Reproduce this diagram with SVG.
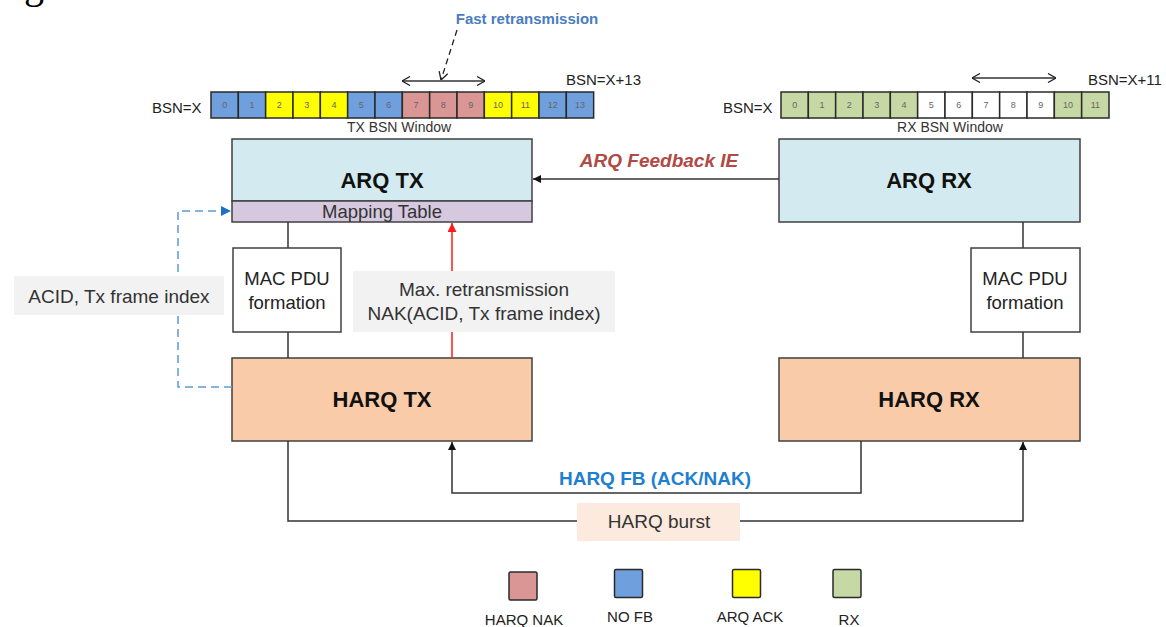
<svg xmlns="http://www.w3.org/2000/svg" width="1166" height="627" viewBox="0 0 1166 627">
<defs>
<style>
text{font-family:"Liberation Sans",Arial,sans-serif;}
.box{stroke:#404040;stroke-width:1.5;}
.cell{stroke:#2a2a2a;stroke-width:1.5;}
.num{font-size:9px;fill:#666;text-anchor:middle;}
.lbl{font-size:15px;fill:#222;}
.big{font-size:22px;font-weight:bold;fill:#111;text-anchor:middle;}
.mid{font-size:18.5px;fill:#222;text-anchor:middle;}
.note{font-size:19px;fill:#333;text-anchor:middle;}
.line{stroke:#333;stroke-width:1.5;fill:none;}
.blue{fill:#6f9fdc;}.yel{fill:#ffff00;}.pink{fill:#d99694;}.grn{fill:#c6d9a4;}.wht{fill:#ffffff;}
</style>
<marker id="tri" viewBox="0 0 10 10" refX="10" refY="5" markerWidth="8" markerHeight="8" markerUnits="userSpaceOnUse" orient="auto"><path d="M0,0 L10,5 L0,10 z" fill="#111"/></marker>
<marker id="triR" viewBox="0 0 10 10" refX="10" refY="5" markerWidth="9" markerHeight="9" markerUnits="userSpaceOnUse" orient="auto"><path d="M0,0 L10,5 L0,10 z" fill="#ff1a1a"/></marker>
<marker id="triB" viewBox="0 0 10 10" refX="10" refY="5" markerWidth="10" markerHeight="10" markerUnits="userSpaceOnUse" orient="auto"><path d="M0,0 L10,5 L0,10 z" fill="#1f6fc4"/></marker>
<marker id="open" viewBox="0 0 10 10" refX="10" refY="5" markerWidth="10" markerHeight="10" markerUnits="userSpaceOnUse" orient="auto-start-reverse"><path d="M2,0.5 L10,5 L2,9.5" fill="none" stroke="#222" stroke-width="1.3"/></marker>
</defs>
<rect width="1166" height="627" fill="#ffffff"/>
<text x="24" y="-2" style="font-family:'Liberation Serif',serif;font-size:40px;fill:#000">g</text>

<g id="tx-window">
<text class="lbl" x="152" y="112.5">BSN=X</text>
<text class="lbl" x="566" y="84.5">BSN=X+13</text>
<text x="399" y="132" style="font-size:14px;fill:#333;text-anchor:middle">TX BSN Window</text>
<rect class="cell blue" x="211" y="92" width="27.33" height="26"/>
<rect class="cell blue" x="238.33" y="92" width="27.33" height="26"/>
<rect class="cell yel" x="265.66" y="92" width="27.33" height="26"/>
<rect class="cell yel" x="293" y="92" width="27.33" height="26"/>
<rect class="cell yel" x="320.33" y="92" width="27.33" height="26"/>
<rect class="cell blue" x="347.66" y="92" width="27.33" height="26"/>
<rect class="cell blue" x="375" y="92" width="27.33" height="26"/>
<rect class="cell pink" x="402.33" y="92" width="27.33" height="26"/>
<rect class="cell pink" x="429.66" y="92" width="27.33" height="26"/>
<rect class="cell pink" x="457" y="92" width="27.33" height="26"/>
<rect class="cell yel" x="484.33" y="92" width="27.33" height="26"/>
<rect class="cell yel" x="511.66" y="92" width="27.33" height="26"/>
<rect class="cell blue" x="539" y="92" width="27.33" height="26"/>
<rect class="cell blue" x="566.33" y="92" width="27.33" height="26"/>
<text class="num" x="224.7" y="108">0</text><text class="num" x="252" y="108">1</text><text class="num" x="279.3" y="108">2</text><text class="num" x="306.7" y="108">3</text><text class="num" x="334" y="108">4</text><text class="num" x="361.3" y="108">5</text><text class="num" x="388.7" y="108">6</text><text class="num" x="416" y="108">7</text><text class="num" x="443.3" y="108">8</text><text class="num" x="470.7" y="108">9</text><text class="num" x="498" y="108">10</text><text class="num" x="525.3" y="108">11</text><text class="num" x="552.7" y="108">12</text><text class="num" x="580" y="108">13</text>
</g>

<g id="rx-window">
<text class="lbl" x="723" y="112.5">BSN=X</text>
<text class="lbl" x="1088" y="84.5">BSN=X+11</text>
<text x="950" y="132" style="font-size:14px;fill:#333;text-anchor:middle">RX BSN Window</text>
<rect class="cell grn" x="781" y="92" width="27.33" height="26"/>
<rect class="cell grn" x="808.33" y="92" width="27.33" height="26"/>
<rect class="cell grn" x="835.66" y="92" width="27.33" height="26"/>
<rect class="cell grn" x="863" y="92" width="27.33" height="26"/>
<rect class="cell grn" x="890.33" y="92" width="27.33" height="26"/>
<rect class="cell wht" x="917.66" y="92" width="27.33" height="26"/>
<rect class="cell wht" x="945" y="92" width="27.33" height="26"/>
<rect class="cell wht" x="972.33" y="92" width="27.33" height="26"/>
<rect class="cell wht" x="999.66" y="92" width="27.33" height="26"/>
<rect class="cell wht" x="1027" y="92" width="27.33" height="26"/>
<rect class="cell grn" x="1054.33" y="92" width="27.33" height="26"/>
<rect class="cell grn" x="1081.66" y="92" width="27.33" height="26"/>
<text class="num" x="794.7" y="108">0</text><text class="num" x="822" y="108">1</text><text class="num" x="849.3" y="108">2</text><text class="num" x="876.7" y="108">3</text><text class="num" x="904" y="108">4</text><text class="num" x="931.3" y="108">5</text><text class="num" x="958.7" y="108">6</text><text class="num" x="986" y="108">7</text><text class="num" x="1013.3" y="108">8</text><text class="num" x="1040.7" y="108">9</text><text class="num" x="1068" y="108">10</text><text class="num" x="1095.3" y="108">11</text>
</g>

<g id="arq-tx">
<rect class="box" x="232" y="139" width="300" height="62" fill="#d3ebf0"/>
<rect class="box" x="232" y="201" width="300" height="21" fill="#d6c9df"/>
<text class="big" x="382" y="188">ARQ TX</text>
<text x="382" y="218" style="font-size:18.5px;fill:#333;text-anchor:middle">Mapping Table</text>
</g>

<g id="arq-rx">
<rect class="box" x="779" y="139" width="301" height="83" fill="#d3ebf0"/>
<text class="big" x="929" y="188">ARQ RX</text>
</g>

<g id="mac-tx">
<rect class="box" x="233" y="248" width="108" height="84" fill="#ffffff"/>
<text class="mid" x="287" y="285">MAC PDU</text>
<text class="mid" x="287" y="309">formation</text>
</g>

<g id="mac-rx">
<rect class="box" x="971" y="248" width="109" height="84" fill="#ffffff"/>
<text class="mid" x="1025" y="285">MAC PDU</text>
<text class="mid" x="1025" y="309">formation</text>
</g>

<g id="harq-tx">
<rect class="box" x="232" y="358" width="300" height="83" fill="#f9cba8"/>
<text class="big" x="382" y="407">HARQ TX</text>
</g>

<g id="harq-rx">
<rect class="box" x="779" y="358" width="301" height="83" fill="#f9cba8"/>
<text class="big" x="929" y="407">HARQ RX</text>
</g>

<g id="legend">
<rect class="cell pink" x="509" y="572" width="28" height="28" rx="1.5"/>
<text class="lbl" x="524" y="625" text-anchor="middle">HARQ NAK</text>
<rect class="cell blue" x="614.5" y="569.5" width="28" height="28" rx="1.5"/>
<text class="lbl" x="630" y="622" text-anchor="middle">NO FB</text>
<rect class="cell yel" x="732.5" y="569.5" width="28" height="28" rx="1.5"/>
<text class="lbl" x="750" y="622" text-anchor="middle">ARQ ACK</text>
<rect class="cell grn" x="833" y="569.5" width="28" height="28" rx="1.5"/>
<text class="lbl" x="849" y="625" text-anchor="middle">RX</text>
</g>

<g id="connectors">
<line class="line" x1="402" y1="81" x2="485" y2="81" marker-start="url(#open)" marker-end="url(#open)"/>
<line class="line" x1="972" y1="78" x2="1056" y2="78" marker-start="url(#open)" marker-end="url(#open)"/>
<line x1="457" y1="30" x2="441" y2="80" stroke="#222" stroke-width="1.3" stroke-dasharray="6,4" marker-end="url(#open)"/>
<text x="527" y="23.5" style="font-size:15px;font-weight:bold;fill:#4a7cc0;text-anchor:middle">Fast retransmission</text>

<line class="line" x1="779" y1="179" x2="533" y2="179" marker-end="url(#tri)"/>
<text x="659" y="167" style="font-size:19px;font-weight:bold;font-style:italic;fill:#b04a45;text-anchor:middle">ARQ Feedback IE</text>

<line class="line" x1="288" y1="222" x2="288" y2="248"/>
<line class="line" x1="288" y1="332" x2="288" y2="358"/>
<line class="line" x1="1023" y1="222" x2="1023" y2="248"/>
<line class="line" x1="1023" y1="332" x2="1023" y2="358"/>

<path d="M232,387 H178 V211 H231" fill="none" stroke="#5b9bd5" stroke-width="1.5" stroke-dasharray="8,5" marker-end="url(#triB)"/>
<rect x="14" y="276" width="210" height="39" fill="#f2f2f2"/>
<text class="note" x="119" y="303">ACID, Tx frame index</text>

<line x1="452" y1="358" x2="452" y2="223" stroke="#ff1a1a" stroke-width="1.5" marker-end="url(#triR)"/>
<rect x="353" y="271" width="262" height="61" fill="#f2f2f2"/>
<text class="note" x="484" y="296">Max. retransmission</text>
<text class="note" x="484" y="320">NAK(ACID, Tx frame index)</text>

<path class="line" d="M861,441 V493 H452 V442" marker-end="url(#tri)"/>
<text x="655" y="485" style="font-size:19px;font-weight:bold;fill:#1f7fcf;text-anchor:middle">HARQ FB (ACK/NAK)</text>

<path class="line" d="M288,441 V521 H1023 V442" marker-end="url(#tri)"/>
<rect x="577" y="503" width="163" height="38" fill="#fdeadf"/>
<text class="note" x="659" y="528">HARQ burst</text>
</g>
</svg>
